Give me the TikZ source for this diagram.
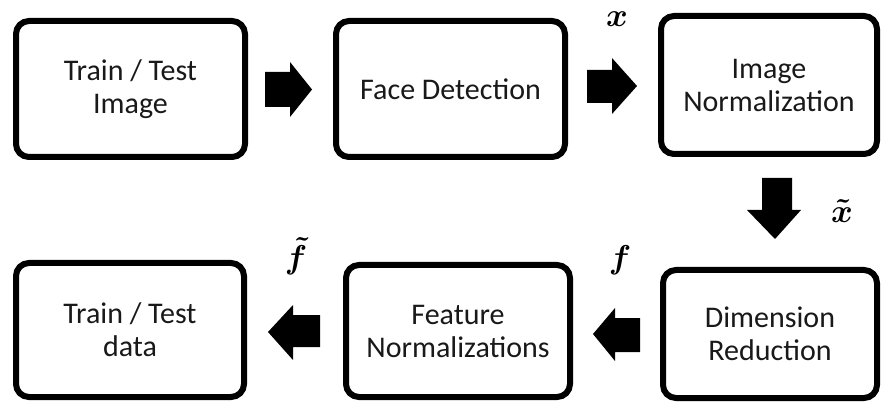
\documentclass[tikz,border=0pt]{standalone}
\usepackage{fontspec}
\usepackage{amsmath}
\usepackage{graphicx}
\setmainfont{Carlito}
\usetikzlibrary{positioning}
\newcommand{\biglabel}[1]{\scalebox{3.3}{$#1$}}
\begin{document}
\begin{tikzpicture}[x=1pt,y=-1pt,
  stagebox/.style={draw=black, line width=6pt, rounded corners=13pt, fill=white,
    inner sep=0pt, align=center, text=black!90,
    font=\fontsize{30}{33}\selectfont},
  blockarrow/.style={fill=black},
  mlabel/.style={inner sep=0pt}]
\useasboundingbox (0,0) rectangle (883,403);
% boxes
\node[stagebox, minimum width=229pt, minimum height=136pt] (img) at (130.5,89) {Train / Test\\Image};
\node[stagebox, minimum width=229pt, minimum height=136pt] (face) at (450.5,89) {Face Detection};
\node[stagebox, minimum width=216pt, minimum height=138pt] (norm) at (769,85) {Image\\Normalization};
\node[stagebox, minimum width=214pt, minimum height=128pt] (dim) at (770,334) {Dimension\\Reduction};
\node[stagebox, minimum width=224pt, minimum height=132pt] (feat) at (458,331) {Feature\\Normalizations};
\node[stagebox, minimum width=228pt, minimum height=134pt] (data) at (130,330) {Train / Test\\data};
% block arrows
\fill[blockarrow] (265,72) -- (290,72) -- (290,62) -- (312,89.5) -- (290,117) -- (290,107) -- (265,107) -- cycle;
\fill[blockarrow] (587,70) -- (612,70) -- (612,58) -- (637,86) -- (612,114) -- (612,103) -- (587,103) -- cycle;
\fill[blockarrow] (762,178) -- (792,178) -- (792,210) -- (801,210) -- (775,239) -- (747,210) -- (762,210) -- cycle;
\fill[blockarrow] (640,318) -- (615,318) -- (615,308) -- (593,334) -- (615,361) -- (615,352) -- (640,352) -- cycle;
\fill[blockarrow] (320,315) -- (293,315) -- (293,305) -- (268,332) -- (293,360) -- (293,347) -- (320,347) -- cycle;
% labels
\node[mlabel] (lx) at (617,19) {\biglabel{\boldsymbol{x}}};
\node[mlabel] (lxt) at (842,211) {\biglabel{\boldsymbol{\tilde{x}}}};
\node[mlabel] (lf) at (620,260) {\biglabel{\boldsymbol{f}}};
\node[mlabel] (lft) at (296,256) {\biglabel{\boldsymbol{\tilde{f}}}};
\end{tikzpicture}
\end{document}
